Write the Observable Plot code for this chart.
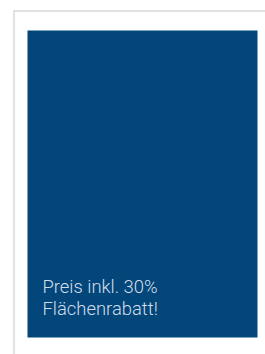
<!DOCTYPE html>
<html>
<head>
<meta charset="utf-8">
<script src="https://cdn.jsdelivr.net/npm/d3@7"></script>
<script src="https://cdn.jsdelivr.net/npm/@observablehq/plot@0.6"></script>
<style>
  html, body { margin: 0; padding: 0; background: #fff; width: 265px; height: 354px; overflow: hidden; }
  #card { position: absolute; left: 13px; top: 10px; right: 0; bottom: 0;
          border-top: 2px solid #e2e2e2; border-left: 2px solid #e2e2e2; }
  #chart { position: absolute; left: 0; top: 0; }
</style>
</head>
<body>
<div id="card"></div>
<div id="chart"></div>
<script>
const lines = ["Preis inkl. 30%", "Flächenrabatt!"];
const labels = [{text: lines.join("\n")}];

const plot = Plot.plot({
  width: 265,
  height: 354,
  marginLeft: 27,
  marginTop: 30,
  marginRight: 8,
  marginBottom: 17,
  style: {background: "transparent", fontFamily: "Roboto"},
  x: {axis: null},
  y: {axis: null},
  marks: [
    Plot.frame({fill: "#03467a", stroke: null}),
    Plot.text(labels, {
      text: "text",
      frameAnchor: "bottom-left",
      textAnchor: "start",
      lineAnchor: "bottom",
      lineHeight: 1.17,
      dx: 15,
      dy: -23,
      fontSize: 18.4,
      fontWeight: 300,
      fill: "#d2dde9"
    })
  ]
});
document.getElementById("chart").appendChild(plot);
</script>
</body>
</html>
